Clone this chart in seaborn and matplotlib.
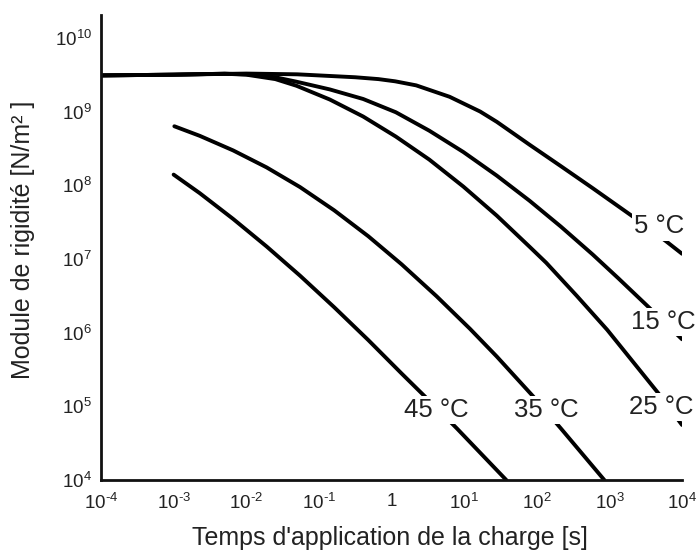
import numpy as np
import pandas as pd
import matplotlib
matplotlib.use("Agg")
import matplotlib.pyplot as plt
import seaborn as sns

# ---- data (log10 of time [s], log10 of modulus [N/m2]) ----
t5_log = [-4.0, -3.0, -2.0, -1.3, -0.5, -0.18, 0.05, 0.34, 0.80, 1.22, 1.45, 1.90, 2.33, 2.77, 3.33, 3.78, 4.0]
e5_log = [9.49, 9.50, 9.515, 9.505, 9.465, 9.44, 9.41, 9.355, 9.20, 9.00, 8.86, 8.55, 8.26, 7.96, 7.57, 7.24, 7.07]

t15_log = [-4.0, -3.0, -2.3, -2.0, -1.6, -1.31, -0.85, -0.39, 0.06, 0.52, 0.99, 1.45, 1.90, 2.33, 2.77, 3.12, 3.52, 4.0]
e15_log = [9.49, 9.50, 9.513, 9.505, 9.465, 9.405, 9.30, 9.17, 8.99, 8.74, 8.45, 8.13, 7.79, 7.44, 7.06, 6.74, 6.365, 5.91]

t25_log = [-4.0, -3.0, -2.3, -2.0, -1.6, -1.31, -0.85, -0.39, 0.06, 0.52, 0.99, 1.45, 1.90, 2.13, 2.55, 2.97, 3.67, 4.0]
e25_log = [9.49, 9.50, 9.513, 9.50, 9.44, 9.35, 9.163, 8.932, 8.66, 8.348, 7.981, 7.587, 7.166, 6.948, 6.50, 6.038, 5.182, 4.747]

t35_log = [-2.99, -2.64, -2.18, -1.72, -1.26, -0.79, -0.32, 0.14, 0.62, 1.08, 1.45, 1.95, 2.33, 2.93]
e35_log = [8.80, 8.670, 8.472, 8.242, 7.975, 7.660, 7.308, 6.926, 6.494, 6.052, 5.675, 5.135, 4.702, 4.0]

t45_log = [-3.0, -2.64, -2.18, -1.72, -1.26, -0.79, -0.32, 0.14, 0.48, 0.90, 1.58]
e45_log = [8.144, 7.892, 7.542, 7.169, 6.773, 6.345, 5.899, 5.444, 5.114, 4.70, 4.0]

temperatures = ["5 °C", "15 °C", "25 °C", "35 °C", "45 °C"]
series_t = [t5_log, t15_log, t25_log, t35_log, t45_log]
series_e = [e5_log, e15_log, e25_log, e35_log, e45_log]

x_tick_exp = [-4, -3, -2, -1, 0, 1, 2, 3, 4]
x_tick_labels = ["$\\mathregular{10^{\u2010 4}}$", "$\\mathregular{10^{\u2010 3}}$", "$\\mathregular{10^{\u2010 2}}$",
                 "$\\mathregular{10^{\u2010 1}}$", "1", r"$\mathregular{10^{1}}$", r"$\mathregular{10^{2}}$",
                 r"$\mathregular{10^{3}}$", r"$\mathregular{10^{4}}$"]
y_tick_exp = [4, 5, 6, 7, 8, 9, 10]
y_tick_labels = [r"$\mathregular{10^{%d}}$" % e for e in y_tick_exp]

# curve label anchor points (log10 t, log10 E)
label_pos = {"5 °C": (3.34, 7.44), "15 °C": (3.30, 6.15), "25 °C": (3.27, 4.99),
             "35 °C": (1.685, 4.95), "45 °C": (0.17, 4.95)}

# ---- build long table ----
rows = []
for name, ts, es in zip(temperatures, series_t, series_e):
    for order, (lt, le) in enumerate(zip(ts, es)):
        rows.append({"temp": name, "order": order, "t": 10.0 ** lt, "E": 10.0 ** le})
df = pd.DataFrame(rows)

sns.set_style("white")
plt.rcParams["font.family"] = ["Liberation Sans", "DejaVu Sans"]
plt.rcParams["mathtext.fontset"] = "custom"
plt.rcParams["mathtext.rm"] = "Liberation Sans"
plt.rcParams["mathtext.it"] = "Liberation Sans:italic"
plt.rcParams["mathtext.bf"] = "Liberation Sans:bold"

txt = "#222222"
fig = plt.figure(figsize=(6.98, 5.53), dpi=100)
ax = fig.add_axes([0.1447, 0.132, 0.8324, 0.8409])

sns.lineplot(data=df, x="t", y="E", hue="temp", units="temp", estimator=None, sort=False,
             palette=["black"] * len(temperatures), legend=False, linewidth=2.8, ax=ax)

ax.set_xscale("log")
ax.set_yscale("log")
ax.set_xlim(1e-4, 1e4)
ax.set_ylim(1e4, 10 ** 10.31)
ax.xaxis.set_major_locator(matplotlib.ticker.FixedLocator([10.0 ** e for e in x_tick_exp]))
ax.yaxis.set_major_locator(matplotlib.ticker.FixedLocator([10.0 ** e for e in y_tick_exp]))
ax.xaxis.set_minor_locator(matplotlib.ticker.NullLocator())
ax.yaxis.set_minor_locator(matplotlib.ticker.NullLocator())
ax.set_xticklabels(x_tick_labels)
ax.set_yticklabels(y_tick_labels)

for s in ["top", "right"]:
    ax.spines[s].set_visible(False)
for s in ["left", "bottom"]:
    ax.spines[s].set_linewidth(2.0)
    ax.spines[s].set_color("#111111")

ax.tick_params(axis="both", direction="in", length=11.5, width=1.6, color="#111111",
               labelsize=13.5, labelcolor=txt)
ax.tick_params(axis="y", pad=6.5)
ax.tick_params(axis="x", pad=9)

ax.set_xlabel("Temps d'application de la charge [s]", fontsize=18, color=txt)
ax.set_ylabel("Module de rigidité [N/m² ]", fontsize=18, color=txt)
ax.xaxis.label.set_va("center")
ax.yaxis.label.set_va("center")
ax.xaxis.set_label_coords(0.497, -0.125)
ax.yaxis.set_label_coords(-0.134, 0.516)

for name in temperatures:
    lx, ly = label_pos[name]
    ax.text(10 ** lx, 10 ** ly, name, ha="left", va="center", fontsize=18.5, color=txt,
            bbox=dict(facecolor="white", edgecolor="none", pad=1.5), zorder=5, clip_on=False)

fig.savefig("out.png", dpi=100, facecolor="white")
